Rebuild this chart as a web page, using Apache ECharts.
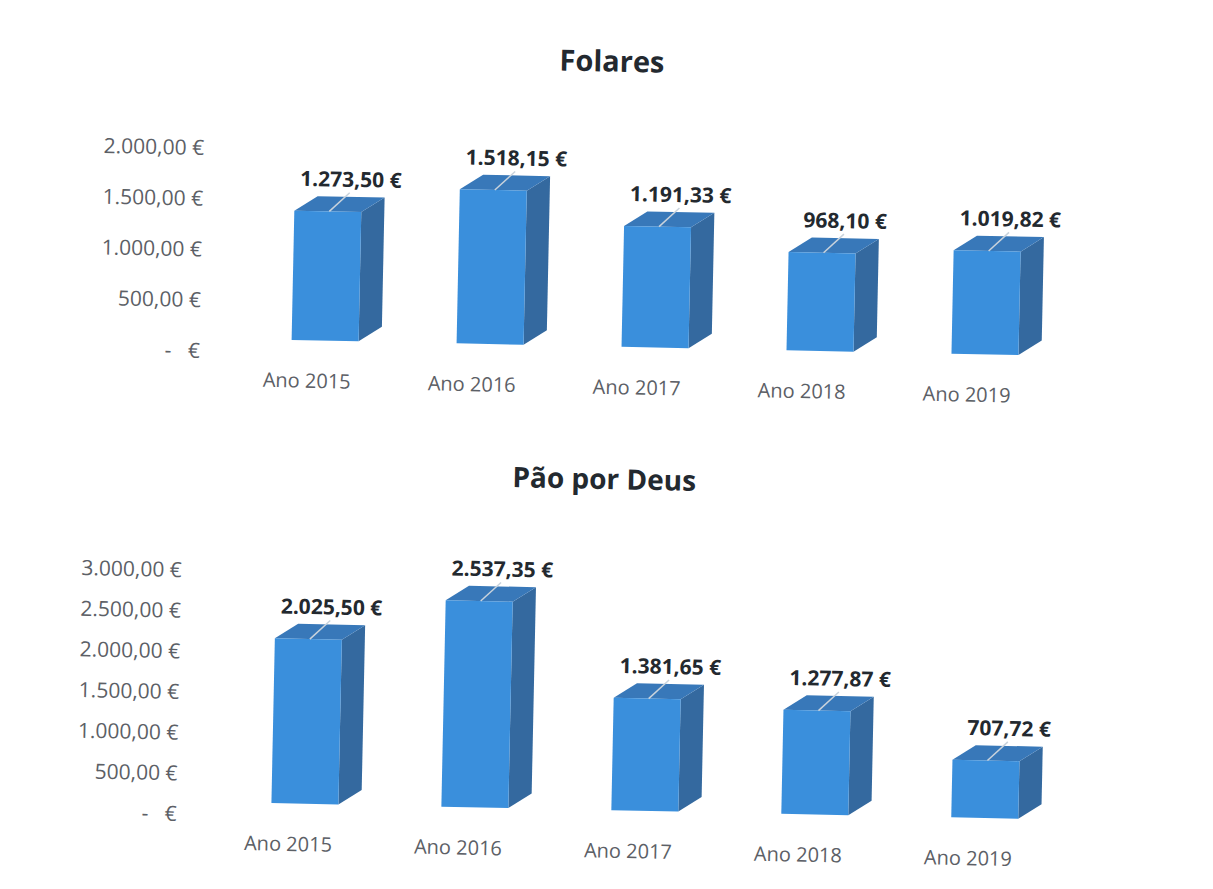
<!DOCTYPE html>
<html><head><meta charset="utf-8">
<style>html,body{margin:0;padding:0;background:#fff;overflow:hidden}
#main{width:1213px;height:889px;transform:rotate(1.2deg);transform-origin:606px 444px}</style>
<script src="https://cdn.jsdelivr.net/npm/echarts@6/dist/echarts.min.js"></script>
</head><body><div id="main"></div>
<script>
const categories = ['Ano 2015','Ano 2016','Ano 2017','Ano 2018','Ano 2019'];
const folaresValues = [1273.50,1518.15,1191.33,968.10,1019.82];
const folaresLabels = ['1.273,50 €','1.518,15 €','1.191,33 €','968,10 €','1.019,82 €'];
const paoValues = [2025.50,2537.35,1381.65,1277.87,707.72];
const paoLabels = ['2.025,50 €','2.537,35 €','1.381,65 €','1.277,87 €','707,72 €'];
const folaresTicks = ['-   €','500,00 €','1.000,00 €','1.500,00 €','2.000,00 €'];
const paoTicks = ['-   €','500,00 €','1.000,00 €','1.500,00 €','2.000,00 €','2.500,00 €','3.000,00 €'];

const FONT = '"Open Sans"';
const FRONT='#3a8fdc', TOP='#3878b9', SIDE='#34699f', TICK='#5c6066', DARK='#23292f';

function bars(labels, shiftX){
  return function(params, api){
    const i = api.value(0), v = api.value(1);
    const b = api.coord([i,0]), t = api.coord([i,v]);
    const w = 67, dx = 23, dy = 15;
    const x0 = b[0]+shiftX-w/2, x1 = x0+w, yB = b[1]-12, yT = t[1]-12;
    const poly = (pts,c)=>({type:'polygon',shape:{points:pts},style:{fill:c}});
    return {type:'group',children:[
      poly([[x1,yT],[x1+dx,yT-dy],[x1+dx,yB-dy],[x1,yB]],SIDE),
      poly([[x0,yT],[x1,yT],[x1+dx,yT-dy],[x0+dx,yT-dy]],TOP),
      poly([[x0,yT],[x1,yT],[x1,yB],[x0,yB]],FRONT),
      {type:'line',shape:{x1:x0+35,y1:yT,x2:x0+55,y2:yT-19},style:{stroke:'#c9d3dc',lineWidth:1.5}},
      {type:'text',style:{x:x0+56,y:yT-33,text:labels[i],align:'center',verticalAlign:'middle',
        fill:DARK,font:'bold 21px '+FONT}}
    ]};
  };
}
const toData = vals => vals.map((v,i)=>[i,v]);

const chart = echarts.init(document.getElementById('main'),null,{renderer:'svg',width:1213,height:889});
const xAxisCommon = {type:'category',data:categories,
  axisLine:{show:false},axisTick:{show:false},
  axisLabel:{color:TICK,fontFamily:FONT,fontSize:20,margin:18}};
const yAxisCommon = {type:'value',min:0,interval:500,
  splitLine:{show:false},axisLine:{show:false},axisTick:{show:false}};
chart.setOption({
  backgroundColor:'#fff',animation:false,
  title:[
    {text:'Folares',left:599,top:55,textAlign:'center',textVerticalAlign:'middle',
     textStyle:{fontFamily:FONT,fontWeight:'bold',fontSize:29,color:DARK}},
    {text:'Pão por Deus',left:600,top:473,textAlign:'center',textVerticalAlign:'middle',
     textStyle:{fontFamily:FONT,fontWeight:'bold',fontSize:28,color:DARK}}
  ],
  grid:[
    {left:223,top:155.5,width:825,height:203},
    {left:211.5,top:578,width:850,height:244}
  ],
  xAxis:[{...xAxisCommon,gridIndex:0},{...xAxisCommon,gridIndex:1}],
  yAxis:[
    {...yAxisCommon,gridIndex:0,max:2000,axisLabel:{margin:25,color:TICK,fontFamily:FONT,fontSize:21,
      formatter:(v)=>folaresTicks[v/500]}},
    {...yAxisCommon,gridIndex:1,max:3000,axisLabel:{margin:27,color:TICK,fontFamily:FONT,fontSize:21,
      formatter:(v)=>paoTicks[v/500]}}
  ],
  series:[
    {type:'custom',xAxisIndex:0,yAxisIndex:0,clip:false,data:toData(folaresValues),renderItem:bars(folaresLabels,17.5)},
    {type:'custom',xAxisIndex:1,yAxisIndex:1,clip:false,data:toData(paoValues),renderItem:bars(paoLabels,16)}
  ]
});
</script></body></html>
